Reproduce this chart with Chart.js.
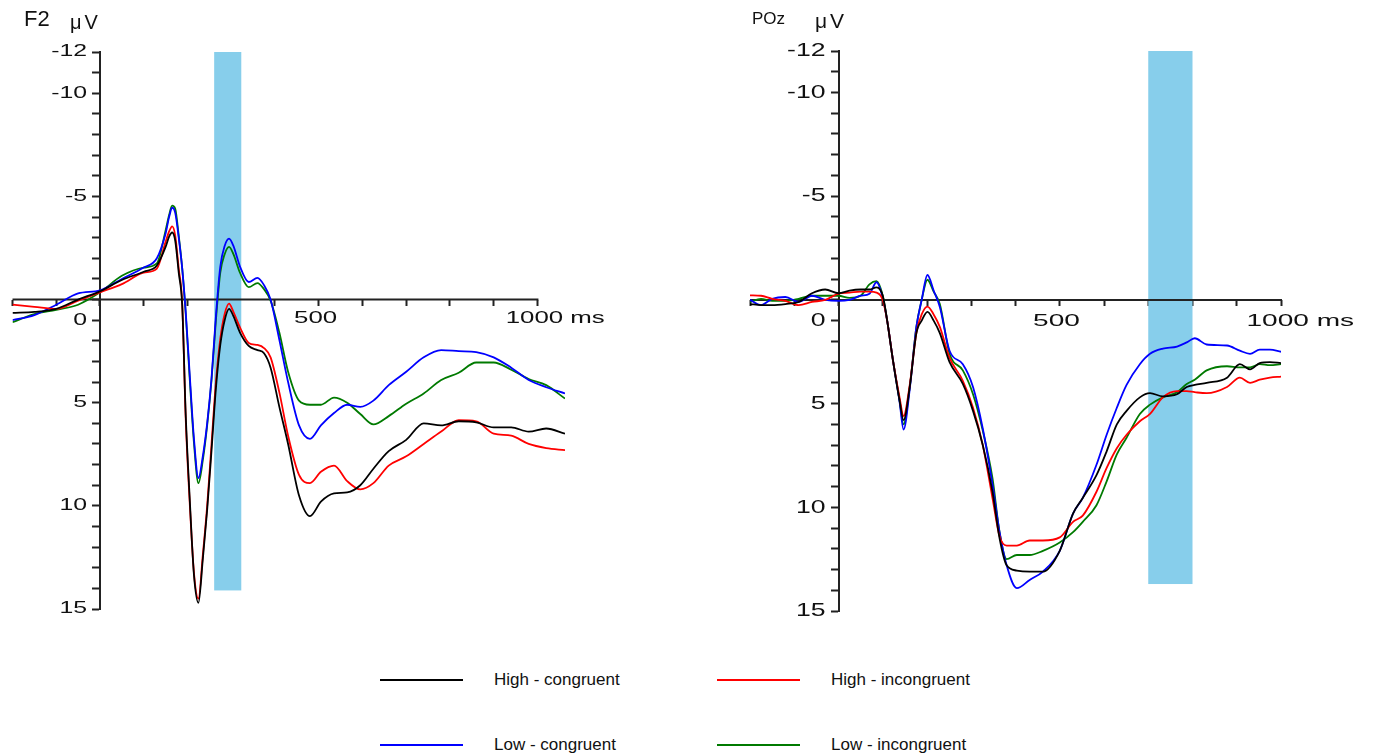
<!DOCTYPE html>
<html>
<head>
<meta charset="utf-8">
<script src="https://cdn.jsdelivr.net/npm/chart.js@4.4.1/dist/chart.umd.min.js"></script>
<style>
  body { margin: 0; background: #fff; }
  #page { position: relative; width: 1374px; height: 755px; overflow: hidden;
          font-family: Arial, "Liberation Sans", sans-serif; color: #111; }
  canvas { position: absolute; top: 0; }
  .lbl { position: absolute; white-space: nowrap; line-height: 1; }
  .key { position: absolute; height: 2px; width: 83px; }
</style>
</head>
<body>
<div id="page">
  <canvas id="chartF2" width="700" height="640" style="left:0"></canvas>
  <canvas id="chartPOz" width="684" height="640" style="left:690px"></canvas>

  <div class="lbl" style="left:24px;top:8px;font-size:22px">F2</div>
  <div class="lbl" style="left:70px;top:12px;font-size:20px;letter-spacing:3px">μV</div>
  <div class="lbl" style="left:752px;top:10px;font-size:17px">POz</div>
  <div class="lbl" style="left:815px;top:10px;font-size:21px;letter-spacing:3px">μV</div>

  <div id="legend"></div>
</div>

<script>
// ---- legend / series ----
const seriesNames = ['High - congruent', 'High - incongruent', 'Low - congruent', 'Low - incongruent'];
const seriesColors = ['#000000', '#ff0000', '#0000ff', '#007a00'];

// ---- axes ----
const xTickValues = [-200, -100, 0, 100, 200, 300, 400, 500, 600, 700, 800, 900, 1000];
const xLabelValues = [500, 1000];
const xLabelTexts = ['500', '1000 ms'];
const yTickValues = [-12, -10, -5, 1, 5, 10, 15];
const yTickLabels = ['-12', '-10', '-5', '0', '5', '10', '15'];

// ---- F2 (left) ----
const timesF2 = [-200, -150, -100, -50, 0, 50, 100, 130, 150, 158,
  165, 172, 180, 188, 196, 205, 215, 225, 235, 245,
  255, 265, 275, 285, 295, 305, 320, 340, 360, 375,
  390, 410, 430, 455, 480, 505, 535, 565, 595, 625,
  660, 700, 740, 780, 820, 860, 900, 940, 980, 1020, 1063];
const f2HighCong = [0.65, 0.6, 0.45, 0.0, -0.4, -0.95, -1.35, -1.65, -2.55, -3.05,
  -3.25, -2.85, -1.3, 0.3, 5.6, 9.6, 13.4, 14.7, 12.6, 10.2,
  7.3, 4.3, 2.2, 1.0, 0.45, 0.8, 1.6, 2.25, 2.45, 2.6,
  3.3, 5.2, 7.0, 9.5, 10.5, 9.8, 9.4, 9.35, 9.0, 8.2,
  7.35, 6.8, 6.0, 6.1, 5.9, 5.95, 6.2, 6.2, 6.4, 6.25, 6.5];
const f2HighIncong = [0.25, 0.35, 0.45, 0.05, -0.35, -0.75, -1.3, -1.5, -2.8, -3.3,
  -3.55, -3.1, -1.5, 0.2, 5.8, 9.8, 13.3, 14.5, 12.4, 10.0,
  7.0, 4.0, 1.9, 0.7, 0.2, 0.6, 1.35, 2.1, 2.2, 2.35,
  2.8, 4.5, 6.6, 8.5, 8.9, 8.35, 8.05, 8.8, 9.2, 8.9,
  8.05, 7.6, 7.0, 6.4, 5.85, 5.9, 6.5, 6.6, 7.0, 7.2, 7.3];
const f2LowCong = [1.0, 0.75, 0.25, -0.3, -0.45, -1.0, -1.55, -2.0, -3.2, -4.0,
  -4.45, -4.2, -3.0, -1.5, 0.6, 3.6, 6.8, 8.65, 7.6, 6.0,
  3.8, 0.8, -1.6, -2.6, -2.95, -2.6, -1.6, -0.85, -1.05, -0.7,
  0.0, 1.95, 4.0, 6.1, 6.75, 6.1, 5.5, 5.1, 5.2, 4.9,
  4.15, 3.5, 2.8, 2.45, 2.5, 2.55, 2.8, 3.3, 3.9, 4.25, 4.55];
const f2LowIncong = [1.1, 0.7, 0.5, 0.25, -0.35, -1.15, -1.55, -1.75, -3.35, -4.1,
  -4.55, -4.4, -3.1, -1.5, 0.7, 3.8, 7.0, 8.9, 7.8, 6.1,
  3.9, 1.0, -1.3, -2.2, -2.55, -2.2, -1.3, -0.6, -0.8, -0.5,
  0.05, 1.6, 3.5, 4.9, 5.1, 5.1, 4.75, 5.0, 5.55, 6.05,
  5.65, 5.05, 4.55, 3.9, 3.55, 3.05, 3.05, 3.4, 3.85, 4.15, 4.8];
const windowF2 = [261, 323];
const windowF2Range = [-12, 14.1];

// ---- POz (right) ----
const timesPOz = [-200, -175, -150, -120, -90, -60, -30, 0, 25, 50,
  70, 86, 100, 110, 123, 138, 147, 161, 176, 188,
  201, 215, 229, 251, 281, 304, 326, 348, 364, 380,
  403, 432, 462, 500, 530, 552, 583, 606, 629, 651,
  681, 704, 733, 765, 787, 805, 832, 878, 907, 930,
  952, 975, 1000];
const pozHighCong = [0.2, 0.25, 0.25, 0.2, 0.1, -0.32, -0.5, -0.32, -0.45, -0.5,
  -0.5, -0.6, -0.2, 1.0, 2.9, 4.85, 5.8, 4.2, 1.6, 1.0,
  0.58, 1.0, 1.6, 3.0, 4.05, 5.35, 7.0, 9.25, 11.5, 12.8,
  13.05, 13.1, 13.1, 12.1, 10.3, 9.55, 8.45, 7.3, 6.0, 5.35,
  4.7, 4.5, 4.65, 4.55, 4.2, 4.1, 4.0, 3.75, 3.1, 3.35,
  3.05, 3.0, 3.05];
const pozHighIncong = [-0.22, -0.2, -0.05, 0.05, 0.25, 0.1, 0.0, -0.3, -0.35, -0.4,
  -0.4, -0.35, 0.0, 1.0, 2.9, 4.7, 5.6, 4.1, 1.6, 0.7,
  0.32, 0.7, 1.3, 2.8, 3.9, 5.2, 7.0, 9.55, 11.4, 11.85,
  11.85, 11.6, 11.6, 11.45, 10.7, 10.4, 9.25, 8.1, 7.15, 6.5,
  5.85, 5.5, 4.7, 4.4, 4.4, 4.45, 4.5, 4.2, 3.75, 4.0,
  3.85, 3.75, 3.7];
const pozLowCong = [0.0, 0.25, -0.05, -0.14, 0.1, -0.2, 0.0, 0.05, 0.0, -0.2,
  -0.3, -0.85, -0.1, 1.0, 2.9, 4.9, 6.25, 4.3, 1.3, 0.0,
  -1.2, -0.45, 0.34, 2.45, 3.1, 4.2, 6.2, 8.9, 11.2, 12.8,
  13.9, 13.5, 13.1, 12.1, 10.3, 9.55, 7.95, 6.5, 5.2, 4.1,
  3.1, 2.6, 2.35, 2.25, 2.05, 1.85, 2.15, 2.2, 2.45, 2.6,
  2.4, 2.4, 2.5];
const pozLowIncong = [0.1, -0.05, 0.05, 0.05, -0.05, -0.2, -0.2, -0.2, -0.1, -0.2,
  -0.75, -0.9, -0.2, 1.0, 2.9, 4.85, 6.0, 4.2, 1.3, 0.0,
  -0.97, -0.4, 0.2, 2.6, 3.4, 4.55, 6.3, 8.6, 11.2, 12.5,
  12.3, 12.3, 12.1, 11.7, 11.2, 10.7, 9.9, 8.75, 7.45, 6.65,
  5.5, 5.05, 4.7, 4.45, 4.05, 3.85, 3.4, 3.2, 3.25, 3.25,
  3.1, 3.15, 3.1];
const windowPOz = [700, 800];
const windowPOzRange = [-12, 13.7];

// shaded window + x axis line (only from -200 to 1000 ms)
const erpPlugin = {
  id: 'erpDecor',
  beforeDatasetsDraw(chart, args, opts) {
    const { ctx, scales: { x, y } } = chart;
    ctx.save();
    ctx.fillStyle = '#87ceeb';
    const x0 = x.getPixelForValue(opts.window[0]);
    const x1 = x.getPixelForValue(opts.window[1]);
    const y0 = y.getPixelForValue(opts.range[0]);
    const y1 = y.getPixelForValue(opts.range[1]);
    ctx.fillRect(x0, y0, x1 - x0, y1 - y0);
    // x axis line
    ctx.strokeStyle = '#222';
    ctx.lineWidth = 2;
    ctx.beginPath();
    const yz = y.getPixelForValue(0);
    ctx.moveTo(x.getPixelForValue(xTickValues[0]), yz);
    ctx.lineTo(x.getPixelForValue(xTickValues[xTickValues.length - 1]) + 1, yz);
    ctx.stroke();
    ctx.restore();
  },
  // tick labels of the original are horizontally stretched, so draw them here
  afterDraw(chart, args, opts) {
    const { ctx, scales: { x, y } } = chart;
    const yz = y.getPixelForValue(0);
    const xz = x.getPixelForValue(0);
    ctx.save();
    ctx.fillStyle = '#111';
    ctx.textBaseline = 'middle';

    ctx.font = opts.yFont + 'px Arial, "Liberation Sans", sans-serif';
    ctx.textAlign = 'right';
    yTickValues.forEach((v, i) => {
      ctx.save();
      ctx.translate(xz - opts.yGap, y.getPixelForValue(v));
      ctx.scale(opts.yStretch, 1);
      ctx.fillText(yTickLabels[i], 0, 0);
      ctx.restore();
    });

    ctx.font = opts.xFont + 'px Arial, "Liberation Sans", sans-serif';
    ctx.textAlign = 'left';
    xLabelValues.forEach((v, i) => {
      const txt = xLabelTexts[i];
      const head = ctx.measureText(txt.split(' ')[0]).width;
      ctx.save();
      ctx.translate(x.getPixelForValue(v), yz + opts.xGap);
      ctx.scale(opts.xStretch, 1);
      ctx.fillText(txt, -head / 2 - 2, 0);
      ctx.restore();
    });
    ctx.restore();
  }
};

function buildChart(canvasId, panel) {
  const seriesData = panel.series;
  return new Chart(document.getElementById(canvasId), {
    type: 'line',
    data: {
      datasets: seriesNames.map((name, i) => ({
        label: name,
        data: panel.times.map((t, k) => ({ x: t, y: seriesData[i][k] })),
        borderColor: seriesColors[i],
        borderWidth: 1.8,
        pointRadius: 0,
        fill: false,
        cubicInterpolationMode: 'monotone'
      }))
    },
    options: {
      responsive: false,
      animation: false,
      events: [],
      layout: { padding: panel.padding },
      plugins: {
        legend: { display: false },
        tooltip: { enabled: false },
        erpDecor: panel.decor
      },
      scales: {
        x: {
          type: 'linear',
          min: -200,
          max: panel.xMax,
          position: { y: 0 },
          afterBuildTicks: s => { s.ticks = xTickValues.map(v => ({ value: v })); },
          ticks: { display: false },
          grid: { drawOnChartArea: false, drawTicks: true, tickLength: 6, tickWidth: 2, tickColor: '#222' },
          border: { display: false }
        },
        y: {
          type: 'linear',
          reverse: true,
          min: -12,
          max: 15,
          position: { x: 0 },
          afterBuildTicks: s => {
            const ticks = [];
            for (let v = -12; v <= 15; v++) ticks.push({ value: v });
            s.ticks = ticks;
          },
          ticks: { display: false },
          grid: { drawOnChartArea: false, drawTicks: true, tickLength: 7, tickWidth: 2, tickColor: '#222' },
          border: { display: true, width: 2, color: '#222' }
        }
      }
    },
    plugins: [erpPlugin]
  });
}

buildChart('chartF2', {
  times: timesF2,
  series: [f2HighCong, f2HighIncong, f2LowCong, f2LowIncong],
  xMax: 1063,
  padding: { left: 12.5, right: 135, top: 52, bottom: 31 },
  decor: { window: windowF2, range: windowF2Range,
           yFont: 16, yStretch: 1.55, yGap: 13,
           xFont: 17, xStretch: 1.52, xGap: 19 }
});

buildChart('chartPOz', {
  times: timesPOz,
  series: [pozHighCong, pozHighIncong, pozLowCong, pozLowIncong],
  xMax: 1000,
  padding: { left: 60, right: 93, top: 51, bottom: 29 },
  decor: { window: windowPOz, range: windowPOzRange,
           yFont: 19, yStretch: 1.4, yGap: 13,
           xFont: 17, xStretch: 1.65, xGap: 21 }
});

// legend, 2 x 2 grid under the panels
const legend = document.getElementById('legend');
const legendCols = [380, 717];
const legendRows = [680, 745];
seriesNames.forEach((name, i) => {
  const left = legendCols[i % 2];
  const top = legendRows[Math.floor(i / 2)];
  const line = document.createElement('div');
  line.className = 'key';
  line.style.left = left + 'px';
  line.style.top = (top - 1) + 'px';
  line.style.background = seriesColors[i];
  const text = document.createElement('div');
  text.className = 'lbl';
  text.style.left = (left + 114) + 'px';
  text.style.top = (top - 9) + 'px';
  text.style.fontSize = '17px';
  text.textContent = name;
  legend.appendChild(line);
  legend.appendChild(text);
});
</script>
</body>
</html>
